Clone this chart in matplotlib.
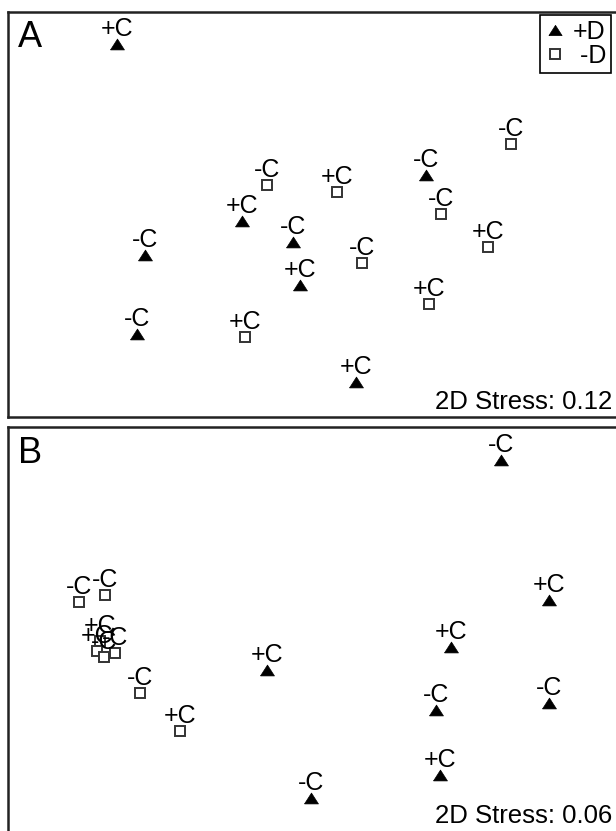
import matplotlib
matplotlib.use('Agg')
import matplotlib.pyplot as plt
from matplotlib import font_manager
from matplotlib.lines import Line2D

# nMDS coordinates, panel A
a_tri_x = [-1.93, 1.16, -0.68, -0.17, -1.65, -0.10, -1.73, 0.46]
a_tri_y = [1.71, 0.40, -0.06, -0.27, -0.40, -0.70, -1.19, -1.67]
a_tri_lab = ['+C', '-C', '+C', '-C', '-C', '+C', '-C', '+C']
a_sq_x = [-0.43, 0.27, 2.01, 1.31, 1.78, 0.52, 1.19, -0.65]
a_sq_y = [0.30, 0.23, 0.71, 0.01, -0.32, -0.48, -0.89, -1.22]
a_sq_lab = ['-C', '+C', '-C', '-C', '+C', '-C', '+C', '+C']

# nMDS coordinates, panel B
b_tri_x = [1.91, 2.39, 1.41, 1.26, 2.39, 1.30, 0.01, -0.43]
b_tri_y = [1.70, 0.30, -0.17, -0.80, -0.73, -1.45, -1.68, -0.40]
b_tri_lab = ['-C', '+C', '+C', '-C', '-C', '+C', '-C', '+C']
b_sq_x = [-2.31, -2.05, -2.10, -2.13, -2.06, -1.95, -1.70, -1.30]
b_sq_y = [0.28, 0.35, -0.11, -0.21, -0.27, -0.23, -0.63, -1.01]
b_sq_lab = ['-C', '-C', '+C', '+C', '-C', '-C', '-C', '+C']

stress = ['2D Stress: 0.12', '2D Stress: 0.06']
panels = ['A', 'B']
legend_lab = ['+D', ' -D']


# pick a narrow font for point labels if one is there
def narrow_font():
	for name in ['Liberation Sans Narrow', 'Arial Narrow', 'DejaVu Sans Condensed']:
		try:
			font_manager.findfont(name, fallback_to_default=False)
			return name
		except Exception:
			pass
	return None

nf = narrow_font()
if nf is None:
	lab_font = ['Liberation Sans']
	lab_size = 18
else:
	lab_font = [nf, 'Liberation Sans']
	lab_size = 19

plt.rcParams['font.family'] = ['Liberation Sans', 'DejaVu Sans']

W, H = 616, 831
fig = plt.figure(figsize=(W / 100, H / 100), dpi=100)

# flat triangle marker
tri = [(-1, -0.78), (1, -0.78), (0, 0.78), (-1, -0.78)]

axA = fig.add_axes([8 / W, 1 - 417 / H, 612 / W, 405 / H])
axB = fig.add_axes([8 / W, 1 - 835 / H, 612 / W, 408 / H])
axA.set_xlim(-3.02, 3.10)
axA.set_ylim(-2.02, 2.03)
axB.set_xlim(-3.02, 3.10)
axB.set_ylim(-2.05, 2.03)

data = [
	(axA, a_tri_x, a_tri_y, a_tri_lab, a_sq_x, a_sq_y, a_sq_lab),
	(axB, b_tri_x, b_tri_y, b_tri_lab, b_sq_x, b_sq_y, b_sq_lab),
]

for ax, tx, ty, tl, sx, sy, sl in data:
	ax.plot(tx, ty, ls='none', marker=tri, ms=10, mfc='black', mec='black', mew=0.5, zorder=3)
	ax.plot(sx, sy, ls='none', marker='s', ms=7.7, mfc='white', mec='#333333', mew=1.4, zorder=3)
	for x, y, l in zip(tx + sx, ty + sy, tl + sl):
		ax.annotate(l, (x, y), xytext=(0, 6), textcoords='offset points',
			ha='center', va='baseline', fontsize=lab_size, family=lab_font, zorder=4)
	ax.set_xticks([])
	ax.set_yticks([])
	for s in ax.spines.values():
		s.set_linewidth(1.8)
		s.set_color('#222222')

# panel letters and stress values
fig.text(18 / W, 1 - 47 / H, panels[0], fontsize=26, va='baseline', ha='left')
fig.text(18 / W, 1 - 463 / H, panels[1], fontsize=26, va='baseline', ha='left')
fig.text(612 / W, 1 - 409 / H, stress[0], fontsize=18.5, va='baseline', ha='right')
fig.text(612 / W, 1 - 823 / H, stress[1], fontsize=18.5, va='baseline', ha='right')

# legend
h1 = Line2D([], [], ls='none', marker=tri, ms=9.5, mfc='black', mec='black', mew=0.5)
h2 = Line2D([], [], ls='none', marker='s', ms=7, mfc='white', mec='#333333', mew=1.4)
leg = axA.legend([h1, h2], legend_lab, loc='upper right', bbox_to_anchor=(611 / W, 1 - 15 / H),
	bbox_transform=fig.transFigure, fontsize=18, frameon=True, fancybox=False, framealpha=1,
	edgecolor='black', borderpad=0.2, labelspacing=0.0, handlelength=0.8, handletextpad=0.3,
	borderaxespad=0)
leg.get_frame().set_linewidth(1.2)

fig.savefig('out.png', dpi=100)
